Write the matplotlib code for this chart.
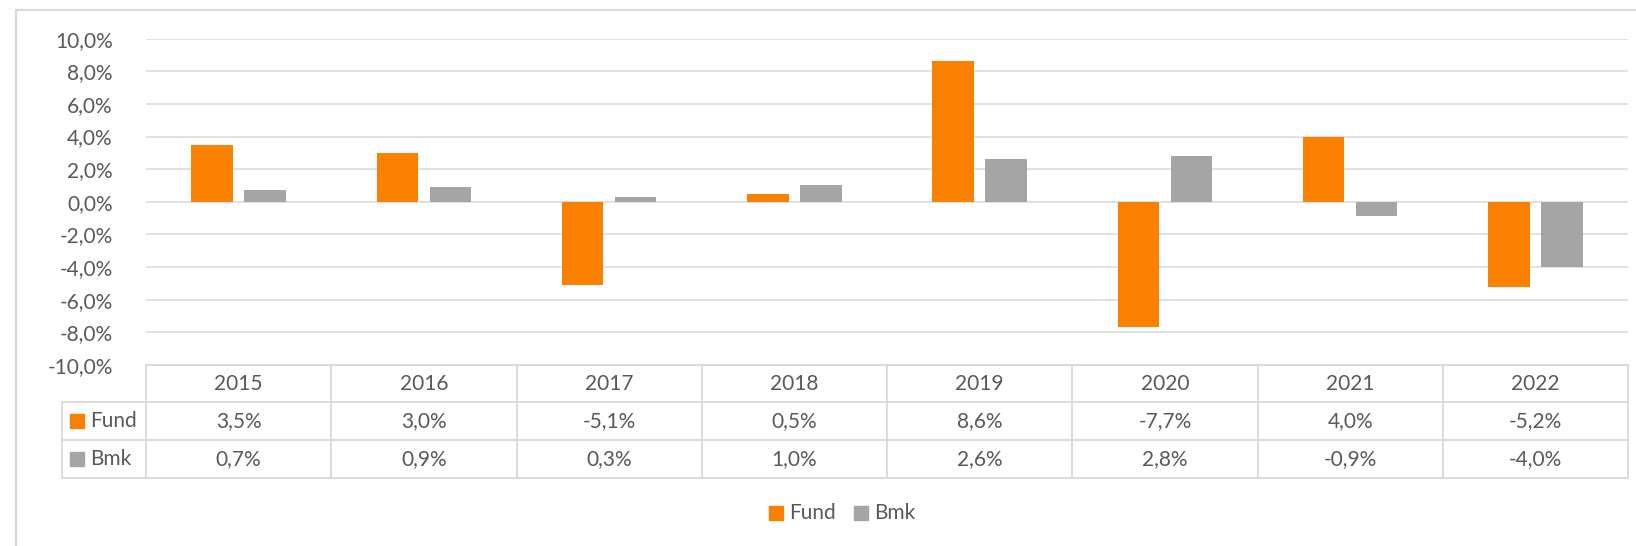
import matplotlib
matplotlib.use("Agg")
import matplotlib.pyplot as plt
from matplotlib.lines import Line2D
from matplotlib.patches import Rectangle
import matplotlib.transforms as mtransforms
import numpy as np

years = ["2015", "2016", "2017", "2018", "2019", "2020", "2021", "2022"]
fund = [3.5, 3.0, -5.1, 0.5, 8.6, -7.7, 4.0, -5.2]
bmk = [0.7, 0.9, 0.3, 1.0, 2.6, 2.8, -0.9, -4.0]
series_names = ["Fund", "Bmk"]
yticks = [-10, -8, -6, -4, -2, 0, 2, 4, 6, 8, 10]

ORANGE = "#F98000"
GREY = "#A5A5A5"
TXT = "#595959"
LINE = "#D9D9D9"
FONT = "Lato"
FS = 15

W, H = 1636, 546
fig = plt.figure(figsize=(W / 100, H / 100), dpi=100)

def fx(px):
    return px / W

def fy(py):
    return 1 - py / H

L, R, T, B = 146, 1628, 38.6, 365
ax = fig.add_axes([fx(L), fy(B), fx(R) - fx(L), fy(T) - fy(B)])
n = len(years)
x = np.arange(n)
bw = 0.224
off = 0.143
ax.bar(x - off, fund, width=bw, color=ORANGE, zorder=3)
ax.bar(x + off, bmk, width=bw, color=GREY, zorder=3)
ax.set_xlim(-0.5, n - 0.5)
ax.set_ylim(-10, 10)
ax.set_yticks(yticks)
ax.set_yticklabels([f"{v:.1f}%".replace(".", ",") for v in yticks],
                   fontfamily=FONT, fontsize=FS, color=TXT)
ax.tick_params(axis="y", length=0, pad=24)
ax.set_xticks([])
ax.grid(axis="y", color=LINE, linewidth=1.1, zorder=0)
for s in ax.spines.values():
    s.set_visible(False)

# table
trans = mtransforms.blended_transform_factory(ax.transData, fig.transFigure)
ty = [365, 402, 440, 478]
lw = 1.3
# horizontal lines
fig.add_artist(Line2D([fx(L), fx(R)], [fy(ty[0])] * 2, color=LINE, lw=lw))
for yy in ty[1:]:
    fig.add_artist(Line2D([fx(62), fx(R)], [fy(yy)] * 2, color=LINE, lw=lw))
# vertical lines
for i in range(n + 1):
    xb = i - 0.5
    ax.add_artist(Line2D([xb, xb], [fy(ty[0]), fy(ty[3])], color=LINE, lw=lw,
                         transform=trans, clip_on=False))
fig.add_artist(Line2D([fx(62)] * 2, [fy(ty[1]), fy(ty[3])], color=LINE, lw=lw))

rows = [years,
        [f"{v:.1f}%".replace(".", ",") for v in fund],
        [f"{v:.1f}%".replace(".", ",") for v in bmk]]
for r, vals in enumerate(rows):
    yc = (ty[r] + ty[r + 1]) / 2
    for i, v in enumerate(vals):
        ax.text(i, fy(yc), v, transform=trans, ha="center", va="center",
                fontfamily=FONT, fontsize=FS, color=TXT, clip_on=False)

for r, (name, col) in enumerate(zip(series_names, [ORANGE, GREY])):
    yc = (ty[r + 1] + ty[r + 2]) / 2
    fig.add_artist(Rectangle((fx(70), fy(yc + 7)), fx(14), 14 / H, color=col))
    fig.text(fx(90), fy(yc), name, ha="left", va="center",
             fontfamily=FONT, fontsize=FS, color=TXT)

# legend
ly = 513
for name, col, px in zip(series_names, [ORANGE, GREY], [769, 854]):
    fig.add_artist(Rectangle((fx(px), fy(ly + 7)), fx(14), 14 / H, color=col))
    fig.text(fx(px + 20), fy(ly), name, ha="left", va="center",
             fontfamily=FONT, fontsize=FS, color=TXT)

# chart border (top & left)
fig.add_artist(Line2D([fx(16), 1], [fy(10)] * 2, color=LINE, lw=1.6))
fig.add_artist(Line2D([fx(16)] * 2, [fy(10), 0], color=LINE, lw=1.6))

fig.savefig("out.png", dpi=100)
